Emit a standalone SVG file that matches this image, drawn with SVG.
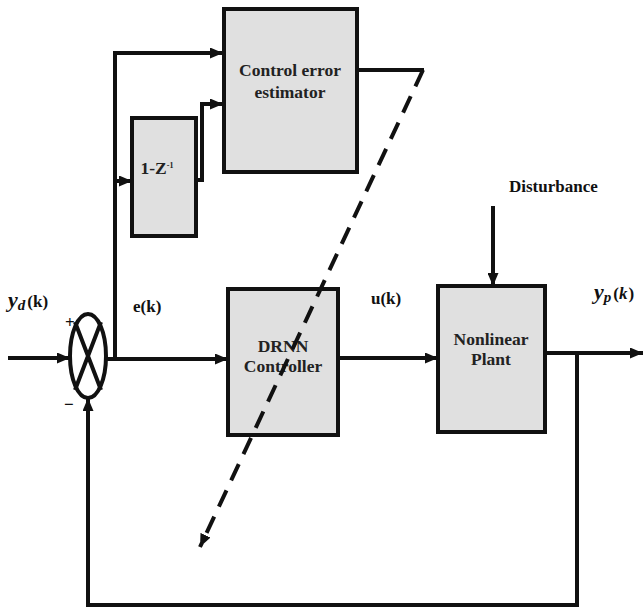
<svg xmlns="http://www.w3.org/2000/svg" width="644" height="609" viewBox="0 0 644 609">
<style>
.box{fill:#e0e0e0;stroke:#111;stroke-width:4}
.ln{fill:none;stroke:#111;stroke-width:4}
.dash{fill:none;stroke:#111;stroke-width:4;stroke-dasharray:18 11}
text{font-family:"Liberation Serif","Times New Roman","DejaVu Serif",serif;font-weight:bold;fill:#222}
.t{font-size:17.5px;text-anchor:middle}
.lab{font-size:17px;fill:#111}
</style>
<defs>
<marker id="ah" markerUnits="userSpaceOnUse" markerWidth="13" markerHeight="11" refX="13" refY="5.5" orient="auto">
<path d="M0,0 L13,5.5 L0,11 z" fill="#111"/>
</marker>
</defs>
<rect width="644" height="609" fill="#fff"/>
<g id="estimator">
<rect class="box" x="224" y="9" width="133" height="163"/>
<text class="t" x="290" y="76">Control error</text>
<text class="t" x="290" y="98">estimator</text>
</g>
<g id="delay">
<rect class="box" x="132" y="118" width="64" height="118"/>
<text class="t" x="157" y="174" font-size="13">1-Z<tspan font-size="8" dy="-6">-1</tspan></text>
</g>
<g id="drnn">
<rect class="box" x="228" y="289" width="110" height="146"/>
<text class="t" x="283" y="352">DRNN</text>
<text class="t" x="283" y="372">Controller</text>
</g>
<g id="plant">
<rect class="box" x="438" y="286" width="107" height="146"/>
<text class="t" x="491" y="345">Nonlinear</text>
<text class="t" x="491" y="365">Plant</text>
</g>
<g id="sum">
<ellipse cx="88" cy="356" rx="18" ry="42" fill="#fff" stroke="#111" stroke-width="4"/>
<path class="ln" d="M75,322 L101,390 M101,322 L75,390"/>
<text class="lab" x="65" y="328" font-size="14">+</text>
<text class="lab" x="64" y="410" font-size="16">−</text>
</g>
<g id="connectors">
<path class="ln" d="M8,358 H70" marker-end="url(#ah)"/>
<path class="ln" d="M106,359 H228" marker-end="url(#ah)"/>
<path class="ln" d="M115,360 V53 H223" marker-end="url(#ah)"/>
<path class="ln" d="M115,181 H132" marker-end="url(#ah)"/>
<path class="ln" d="M197,180 H202 V104 H223" marker-end="url(#ah)"/>
<path class="ln" d="M338,358 H438" marker-end="url(#ah)"/>
<path class="ln" d="M493,206 V286" marker-end="url(#ah)"/>
<path class="ln" d="M545,353 H643" marker-end="url(#ah)"/>
<path class="ln" d="M577,353 V605 H88 V398" marker-end="url(#ah)"/>
<path class="ln" d="M357,70 H424"/>
<path class="dash" d="M423,70 L200,547" marker-end="url(#ah)"/>
</g>
<g id="labels">
<text class="lab" x="509" y="192">Disturbance</text>
<text class="lab" x="8" y="307" font-size="20"><tspan font-style="italic" font-size="22">y</tspan><tspan font-style="italic" font-size="15" dy="3">d</tspan><tspan dy="-3" dx="2">(k)</tspan></text>
<text class="lab" x="133" y="312">e(k)</text>
<text class="lab" x="371" y="304">u(k)</text>
<text class="lab" x="594" y="299" font-size="20"><tspan font-style="italic" font-size="22">y</tspan><tspan font-style="italic" font-size="15" dy="3">p</tspan><tspan dy="-3" dx="2">(</tspan><tspan font-style="italic">k</tspan><tspan dx="1">)</tspan></text>
</g>
</svg>
